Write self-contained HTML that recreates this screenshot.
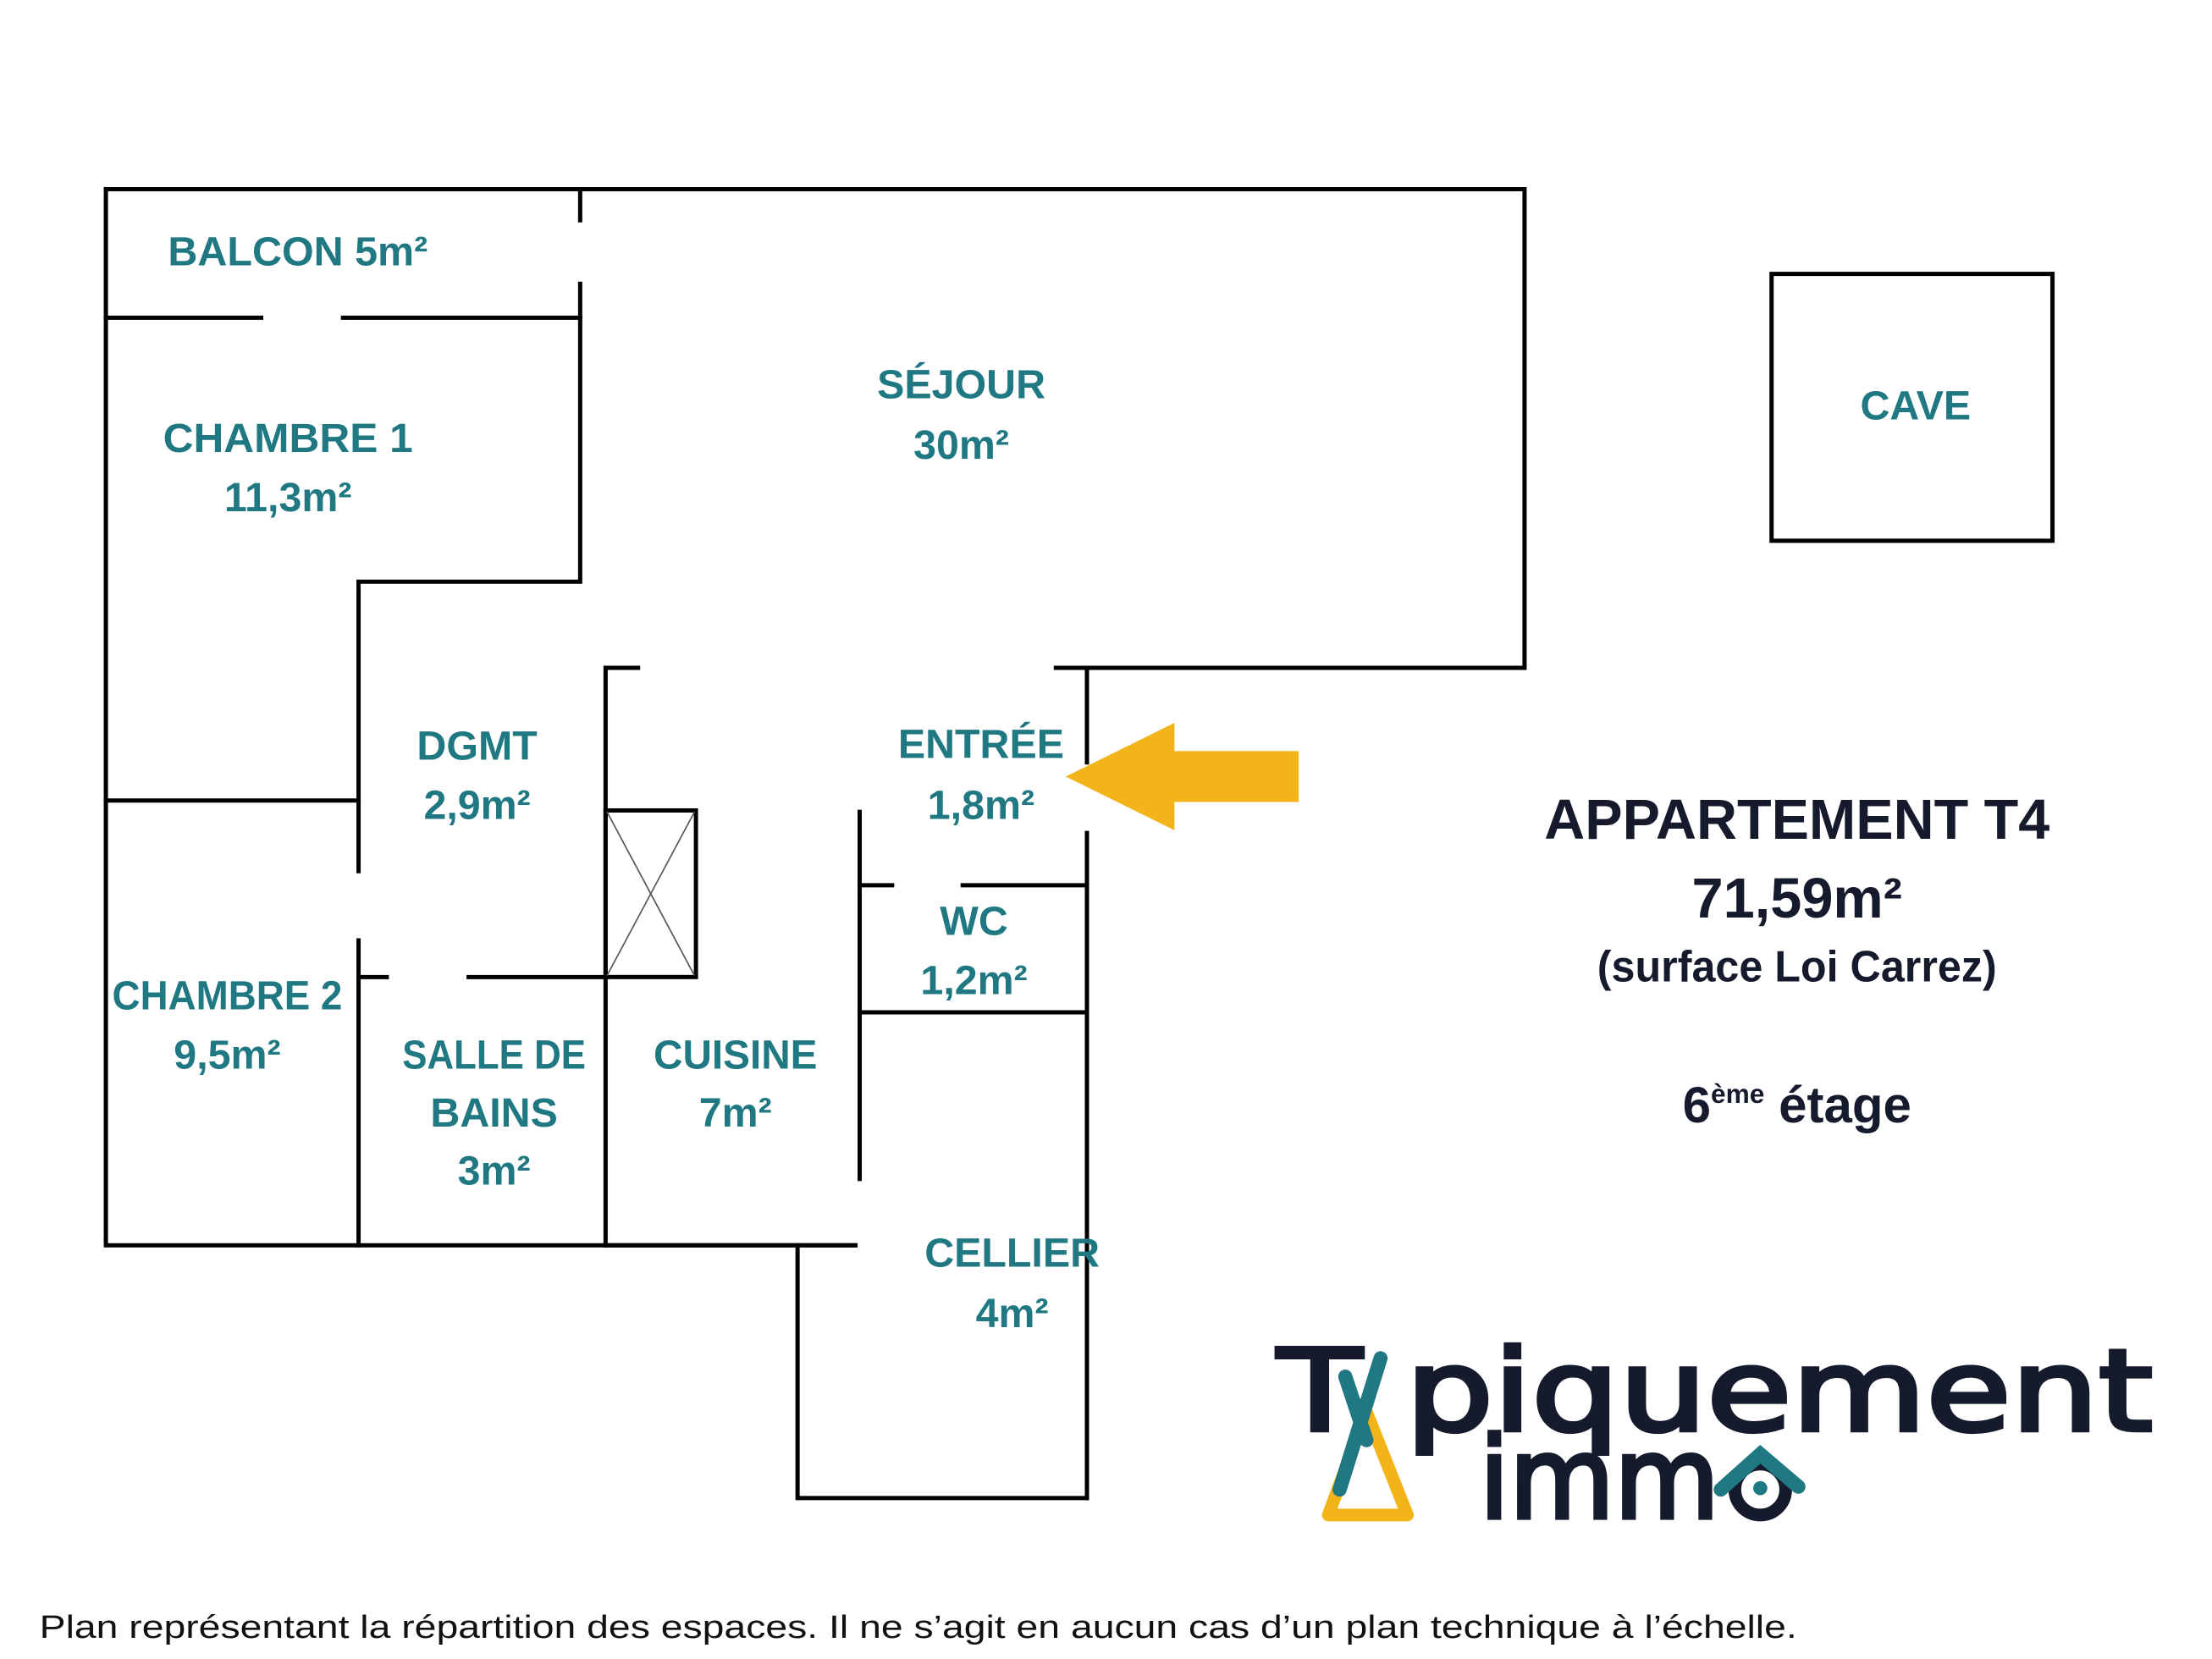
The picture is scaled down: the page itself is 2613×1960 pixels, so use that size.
<!DOCTYPE html>
<html><head><meta charset="utf-8"><style>
html,body{margin:0;padding:0;background:#fff;}
svg{display:block;}
.l{font-family:"Liberation Sans",sans-serif;font-weight:bold;fill:#1f7882;font-size:29px;text-anchor:middle;}
.d{font-family:"Liberation Sans",sans-serif;font-weight:bold;fill:#151a2c;text-anchor:middle;}
</style></head><body>
<svg width="2613" height="1960" viewBox="0 0 1567 1175" preserveAspectRatio="none" xmlns="http://www.w3.org/2000/svg">
<rect width="1567" height="1175" fill="#fff"/>
<g stroke="#000" stroke-width="3" fill="none" stroke-linecap="square">
<path d="M75,134H1080V473M748,473H1080"/>
<path d="M75,134V882H606"/>
<path d="M75,225H185M243,225H411"/>
<path d="M411,134V156M411,201V412H254V617M254,666V882"/>
<path d="M75,567H254"/>
<path d="M254,692H274M332,692H429"/>
<path d="M429,473H452M429,473V882"/>
<path d="M609,575V835"/>
<path d="M609,627H632M682,627H770"/>
<path d="M770,473V540M770,590V1061"/>
<path d="M609,717H770"/>
<path d="M565,882V1061H770"/>
<path d="M429,882H606"/>
<rect x="429" y="574" width="64" height="118"/>
<rect x="1255" y="194" width="199" height="189"/>
</g>
<path d="M430,575L492,691M492,575L430,691" stroke="#555" stroke-width="1"/>
<polygon points="755,550 832,512 832,532 920,532 920,568 832,568 832,588" fill="#f2b418"/>
<text class="l" x="211" y="188" textLength="184" lengthAdjust="spacingAndGlyphs">BALCON 5m²</text>
<text class="l" x="681" y="282">SÉJOUR</text>
<text class="l" x="681" y="325">30m²</text>
<text class="l" x="204" y="320" textLength="177" lengthAdjust="spacingAndGlyphs">CHAMBRE 1</text>
<text class="l" x="204" y="362">11,3m²</text>
<text class="l" x="338" y="538">DGMT</text>
<text class="l" x="338" y="580">2,9m²</text>
<text class="l" x="695" y="537">ENTRÉE</text>
<text class="l" x="695" y="580">1,8m²</text>
<text class="l" x="690" y="662">WC</text>
<text class="l" x="690" y="704">1,2m²</text>
<text class="l" x="161" y="715" textLength="163" lengthAdjust="spacingAndGlyphs">CHAMBRE 2</text>
<text class="l" x="161" y="757">9,5m²</text>
<text class="l" x="350" y="757" textLength="130" lengthAdjust="spacingAndGlyphs">SALLE DE</text>
<text class="l" x="350" y="798">BAINS</text>
<text class="l" x="350" y="839">3m²</text>
<text class="l" x="521" y="757" textLength="116" lengthAdjust="spacingAndGlyphs">CUISINE</text>
<text class="l" x="521" y="798">7m²</text>
<text class="l" x="717" y="897">CELLIER</text>
<text class="l" x="717" y="940">4m²</text>
<text class="l" x="1357" y="297">CAVE</text>
<text class="d" x="1273" y="594" font-size="40" textLength="358" lengthAdjust="spacingAndGlyphs">APPARTEMENT T4</text>
<text class="d" x="1273" y="650" font-size="40">71,59m²</text>
<text class="d" x="1273" y="695" font-size="31" textLength="283" lengthAdjust="spacingAndGlyphs">(surface Loi Carrez)</text>
<text class="d" x="1273" y="795" font-size="36">6<tspan font-size="19" dy="-14">ème</tspan><tspan dy="14"> étage</tspan></text>
<text x="28" y="1160" font-family="Liberation Sans,sans-serif" font-size="23" fill="#111" textLength="1245" lengthAdjust="spacingAndGlyphs">Plan représentant la répartition des espaces. Il ne s’agit en aucun cas d’un plan technique à l’échelle.</text>
<!-- logo -->
<polygon points="968,1000 941,1073 997,1073" fill="none" stroke="#f2b418" stroke-width="9" stroke-linejoin="round"/>
<text x="905" y="1013" font-family="DejaVu Sans,sans-serif" font-size="80" fill="#151a2c" stroke="#151a2c" stroke-width="3" textLength="620" lengthAdjust="spacingAndGlyphs">T  piquement</text>
<line x1="978" y1="962" x2="949" y2="1055" stroke="#1f7882" stroke-width="10" stroke-linecap="round"/>
<line x1="953" y1="975" x2="968" y2="1020" stroke="#1f7882" stroke-width="10" stroke-linecap="round"/>
<text x="1048" y="1075" font-family="DejaVu Sans,sans-serif" font-size="80" fill="#151a2c" stroke="#151a2c" stroke-width="3" textLength="170" lengthAdjust="spacingAndGlyphs">imm</text>
<circle cx="1247" cy="1055" r="18" fill="none" stroke="#151a2c" stroke-width="9"/>
<circle cx="1247" cy="1054" r="5" fill="#1f7882"/>
<path d="M1219,1055L1247,1030L1274,1053" fill="none" stroke="#1f7882" stroke-width="10" stroke-linecap="round"/>
</svg>
</body></html>
